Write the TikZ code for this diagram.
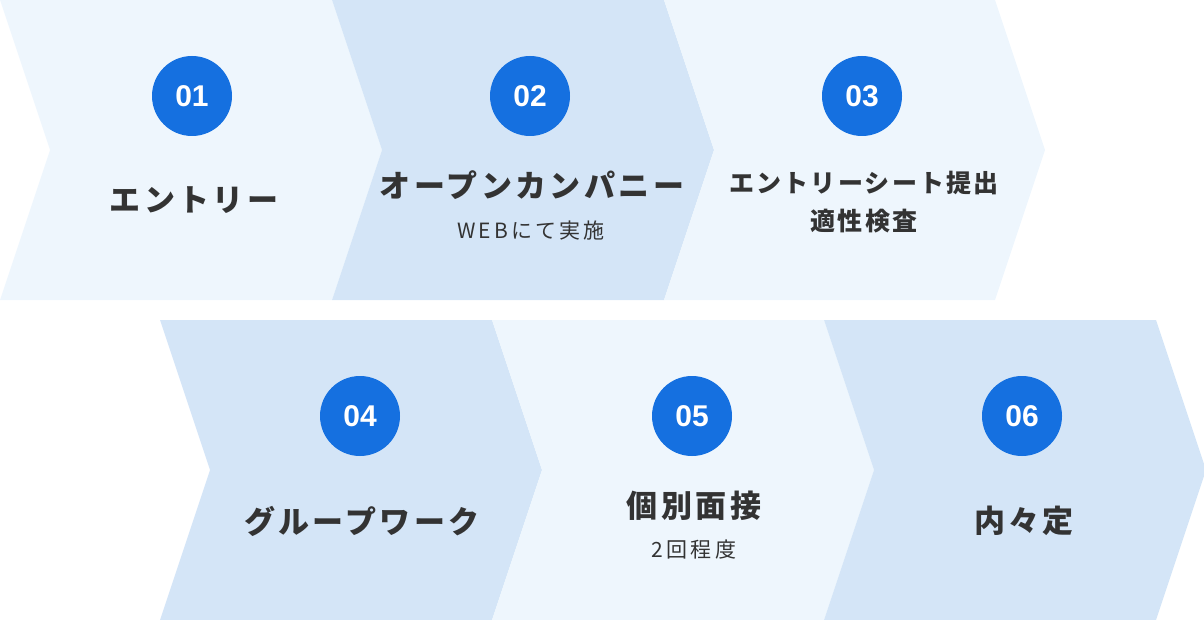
\documentclass[tikz,border=0pt]{standalone}
\usepackage{fontspec}
\setmainfont{Liberation Sans}
\newfontfamily\jpfont{Noto Sans CJK JP}
\usetikzlibrary{positioning}
\definecolor{palebox}{HTML}{EEF6FD}
\definecolor{bluebox}{HTML}{D4E5F7}
\definecolor{stepblue}{HTML}{1570E0}
\definecolor{inkgray}{HTML}{333333}
\tikzstyle{stepnum} = [circle, minimum size = 80pt, inner sep = 0pt, fill = stepblue, text = white, font = \fontsize{30}{30}\selectfont\bfseries]
\tikzstyle{steptitle} = [inner sep = 0pt, text = inkgray, font = \fontsize{31}{34}\jpfont\bfseries\addfontfeatures{LetterSpace=11}]
\tikzstyle{smalltitle} = [inner sep = 0pt, text = inkgray, font = \fontsize{25}{30}\jpfont\bfseries\addfontfeatures{LetterSpace=9}]
\tikzstyle{stepnote} = [inner sep = 0pt, text = inkgray, font = \fontsize{21}{24}\jpfont\addfontfeatures{LetterSpace=15}]
% chevron: left x, right x, top y, colour
\newcommand{\chev}[4]{\fill[#4] (#1,#3) -- (#2,#3) -- ++(50,150) -- ++(-50,150) -- (#1,#3+300) -- ++(50,-150) -- cycle;}

\begin{document}
\begin{tikzpicture}[x = 1pt, y = -1pt]
    \useasboundingbox (0,0) rectangle (1204,620);
    % chevrons
    \chev{0}{332}{0}{palebox}
    \chev{332}{664}{0}{bluebox}
    \chev{664}{995}{0}{palebox}
    \chev{160}{492}{320}{bluebox}
    \chev{492}{824}{320}{palebox}
    \chev{824}{1156}{320}{bluebox}

    % \node(label)[style]{text};
    \node(n1)[stepnum] at (192,96){01};
    \node(n2)[stepnum] at (530,96){02};
    \node(n3)[stepnum] at (862,96){03};
    \node(n4)[stepnum] at (360,416){04};
    \node(n5)[stepnum] at (692,416){05};
    \node(n6)[stepnum] at (1022,416){06};

    \node(t1)[steptitle] at (194,200){エントリー};
    \node(t2)[steptitle] at (532,185){オープンカンパニー};
    \node(s2)[stepnote] at (531,231){WEBにて実施};
    \node(t3)[smalltitle] at (864,183){エントリーシート提出};
    \node(s3)[smalltitle] at (864,221){適性検査};
    \node(t4)[steptitle] at (362,521){グループワーク};
    \node(t5)[steptitle] at (694,506){個別面接};
    \node(s5)[stepnote] at (694,550){2回程度};
    \node(t6)[steptitle] at (1024,521){内々定};
\end{tikzpicture}
\end{document}
